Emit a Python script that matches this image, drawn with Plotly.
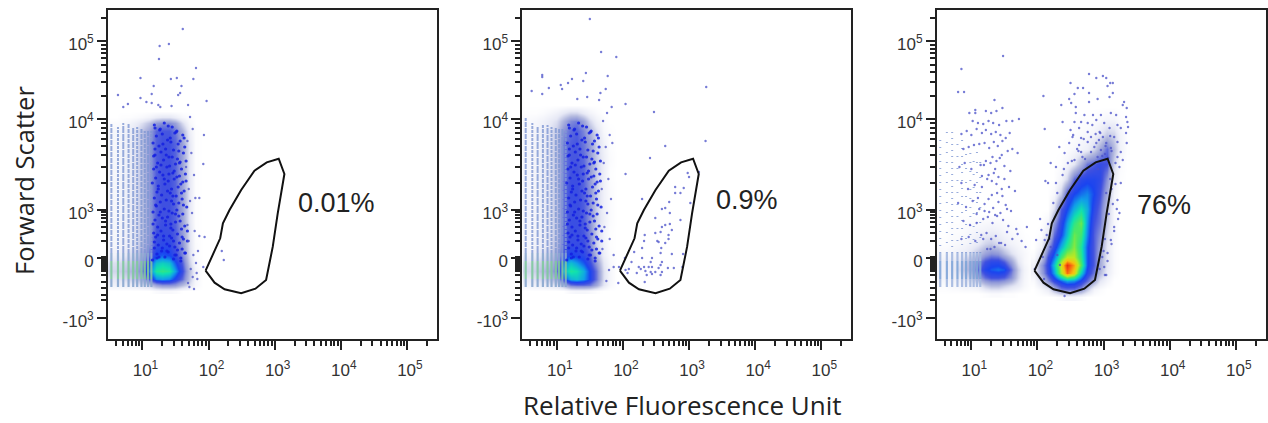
import plotly.graph_objects as go

W, H = 1268, 423
PANEL_LEFT = [108.3, 523.3, 938.5]
PANEL_W = 329
TOP, BOTTOM = 10, 339
X_RANGE = [0.481, 5.449]
Y_RANGE = [0, 329]

# y values are display channels (biexponential scale), x values are log10 fluorescence
X_TICKS = [1, 2, 3, 4, 5]
X_LABELS = ["10<sup>1</sup>", "10<sup>2</sup>", "10<sup>3</sup>", "10<sup>4</sup>", "10<sup>5</sup>"]
X_MINOR = [0.602, 0.699, 0.778, 0.845, 0.903, 0.954,
           1.301, 1.477, 1.602, 1.699, 1.778, 1.845, 1.903, 1.954,
           2.301, 2.477, 2.602, 2.699, 2.778, 2.845, 2.903, 2.954,
           3.301, 3.477, 3.602, 3.699, 3.778, 3.845, 3.903, 3.954,
           4.301, 4.477, 4.602, 4.699, 4.778, 4.845, 4.903, 4.954, 5.301]
Y_TICKS = [298, 220, 129, 81, 21]
Y_LABELS = ["10<sup>5</sup>", "10<sup>4</sup>", "10<sup>3</sup>", "0", "-10<sup>3</sup>"]
Y_MINOR = [321.5, 294, 290.5, 286, 281, 274.5, 267, 257, 243.5,
           215.8, 211.2, 205.9, 199.8, 192.6, 183.8, 172.4, 156.4,
           127, 124, 121, 117, 112, 106, 98,
           82, 80, 78, 76, 74, 72, 70, 68, 64, 57, 51, 44, 39]

GATE_X = [1.955, 2.091, 2.242, 2.493, 2.709, 2.870, 2.971, 3.046, 3.147, 3.061, 2.880, 2.694, 2.493, 2.317, 2.217, 2.176, 1.955]
GATE_Y = [68.3, 56.3, 49.7, 45.7, 50.3, 59, 92.3, 125.7, 165, 180.3, 176.7, 168.3, 149, 129, 115.7, 100.7, 68.3]

PERCENT = ["0.01%", "0.9%", "76%"]
PERCENT_X = [3.32, 3.38, 3.47]
PERCENT_Y = [136, 139, 134]

COLORSCALE = [
    [0.00, "#ffffff"], [0.10, "#e6e8f5"], [0.20, "#b4badf"], [0.30, "#8a93d8"],
    [0.40, "#3f50e0"], [0.48, "#1a44f0"], [0.56, "#10a0e8"], [0.64, "#10e0b0"],
    [0.72, "#50e860"], [0.80, "#c0e820"], [0.88, "#f8c010"], [0.95, "#f86010"], [1.00, "#e83010"],
]

LEFT_COLS = [0.5, 0.6, 0.7, 0.8, 0.9, 1.0, 1.1, 1.2, 1.3, 1.4, 1.5, 1.6, 1.7, 1.8, 1.9]

ROWS_1 = [48, 54, 60, 68, 76, 84, 94, 106, 120, 135, 150, 165, 180, 195, 208, 216, 222, 228]
DENSITY_1 = [
    [0, 0, 0, 0, 0, 0, 0, 2, 3, 3, 2, 0, 0, 0, 0],
    [6, 6, 7, 8, 10, 12, 16, 26, 30, 30, 28, 20, 12, 3, 0],
    [10, 10, 12, 14, 18, 24, 40, 54, 56, 54, 46, 36, 18, 4, 0],
    [14, 14, 16, 20, 24, 34, 52, 66, 68, 66, 56, 42, 20, 5, 0],
    [12, 12, 14, 16, 20, 30, 46, 60, 62, 60, 50, 38, 16, 3, 0],
    [6, 6, 8, 12, 16, 24, 36, 48, 50, 48, 42, 32, 13, 2, 0],
    [4, 4, 6, 8, 13, 20, 30, 42, 44, 44, 38, 30, 12, 2, 0],
    [4, 4, 5, 8, 12, 18, 28, 40, 42, 41, 38, 28, 12, 1, 0],
    [4, 4, 5, 8, 12, 18, 28, 38, 40, 40, 37, 26, 10, 1, 0],
    [4, 4, 5, 8, 12, 18, 28, 38, 40, 40, 37, 26, 10, 1, 0],
    [4, 4, 5, 8, 12, 18, 28, 38, 40, 40, 37, 26, 10, 1, 0],
    [4, 4, 5, 8, 12, 18, 28, 38, 40, 40, 37, 26, 10, 1, 0],
    [4, 4, 5, 8, 12, 18, 28, 38, 40, 40, 37, 26, 10, 1, 0],
    [4, 4, 5, 8, 12, 18, 28, 38, 40, 40, 37, 26, 10, 1, 0],
    [4, 4, 5, 8, 12, 18, 26, 37, 39, 39, 34, 22, 7, 1, 0],
    [2, 2, 3, 5, 8, 12, 18, 28, 31, 31, 26, 13, 3, 0, 0],
    [0, 0, 1, 1, 2, 3, 5, 8, 10, 10, 7, 3, 1, 0, 0],
    [0, 0, 0, 0, 0, 0, 0, 0, 0, 0, 0, 0, 0, 0, 0],
]

ROWS_2 = [48, 54, 60, 68, 76, 84, 94, 106, 120, 135, 150, 165, 180, 195, 208, 218, 226, 234]
DENSITY_2 = [
    [0, 0, 0, 0, 0, 0, 0, 3, 4, 4, 3, 1, 0, 0, 0],
    [6, 6, 7, 8, 10, 12, 22, 34, 36, 36, 34, 24, 10, 3, 0],
    [10, 10, 12, 14, 18, 24, 46, 58, 60, 56, 48, 34, 12, 4, 0],
    [14, 14, 16, 20, 24, 34, 58, 66, 64, 58, 48, 34, 12, 4, 0],
    [12, 12, 14, 16, 20, 30, 52, 60, 56, 50, 42, 28, 10, 3, 0],
    [6, 6, 8, 12, 16, 24, 42, 48, 46, 44, 38, 20, 7, 2, 0],
    [4, 4, 6, 8, 13, 20, 38, 42, 42, 41, 34, 14, 6, 1, 0],
    [4, 4, 5, 8, 12, 18, 37, 41, 41, 39, 32, 14, 5, 1, 0],
    [4, 4, 5, 8, 12, 18, 36, 41, 41, 38, 30, 15, 7, 2, 0],
    [4, 4, 5, 8, 12, 18, 36, 41, 41, 38, 30, 15, 6, 2, 0],
    [4, 4, 5, 8, 12, 18, 36, 41, 41, 37, 30, 15, 6, 2, 0],
    [4, 4, 5, 8, 12, 18, 34, 40, 40, 37, 28, 15, 7, 1, 0],
    [4, 4, 5, 8, 12, 18, 34, 39, 39, 36, 28, 16, 7, 2, 0],
    [4, 4, 5, 8, 12, 18, 34, 38, 39, 34, 28, 14, 6, 1, 0],
    [4, 4, 5, 8, 12, 16, 30, 36, 38, 32, 22, 12, 3, 1, 0],
    [3, 3, 4, 6, 9, 12, 22, 31, 33, 25, 14, 6, 2, 0, 0],
    [1, 1, 1, 2, 4, 6, 10, 14, 14, 9, 5, 2, 0, 0, 0],
    [0, 0, 0, 0, 0, 0, 0, 0, 0, 0, 0, 0, 0, 0, 0],
]

ROWS_3 = [46, 54, 62, 70, 78, 86, 96, 110, 125]
DENSITY_3 = [
    [0, 0, 0, 0, 0, 0, 0, 1, 2, 2, 1, 1, 0, 0, 0],
    [2, 2, 3, 4, 6, 6, 8, 16, 20, 20, 16, 12, 8, 3, 0],
    [5, 5, 6, 8, 12, 16, 26, 36, 40, 40, 38, 30, 14, 4, 0],
    [6, 6, 8, 12, 18, 24, 36, 46, 50, 52, 50, 36, 16, 5, 0],
    [6, 6, 8, 10, 16, 22, 30, 40, 44, 44, 38, 26, 10, 3, 0],
    [3, 3, 4, 6, 8, 12, 18, 26, 30, 28, 20, 12, 6, 3, 0],
    [1, 1, 2, 3, 4, 6, 9, 14, 16, 12, 8, 5, 3, 1, 0],
    [0, 0, 1, 1, 2, 3, 4, 5, 6, 5, 3, 2, 1, 0, 0],
    [0, 0, 0, 0, 0, 0, 0, 0, 0, 0, 0, 0, 0, 0, 0],
]

GATE_COLS = [1.95, 2.05, 2.15, 2.25, 2.35, 2.45, 2.55, 2.65, 2.75, 2.85, 2.95, 3.05, 3.15, 3.25, 3.35]
GATE_ROWS = [42, 50, 58, 66, 74, 82, 92, 104, 116, 130, 145, 160, 175, 190, 205, 220, 232]
GATE_DENSITY = [
    [0, 0, 0, 0, 2, 4, 4, 2, 0, 0, 0, 0, 0, 0, 0],
    [0, 3, 8, 22, 34, 36, 36, 30, 18, 5, 2, 0, 0, 0, 0],
    [2, 12, 30, 42, 50, 56, 54, 46, 36, 24, 10, 4, 0, 0, 0],
    [6, 24, 42, 56, 78, 94, 86, 62, 46, 34, 20, 8, 2, 0, 0],
    [6, 26, 44, 60, 82, 100, 90, 72, 50, 38, 24, 10, 2, 0, 0],
    [2, 14, 40, 52, 70, 80, 80, 68, 50, 38, 24, 10, 2, 0, 0],
    [0, 5, 28, 44, 58, 68, 76, 66, 50, 38, 26, 10, 2, 0, 0],
    [0, 1, 12, 36, 48, 60, 74, 70, 54, 38, 30, 12, 3, 0, 0],
    [0, 0, 4, 28, 44, 56, 68, 74, 56, 40, 34, 16, 3, 0, 0],
    [0, 0, 0, 12, 38, 48, 58, 64, 58, 44, 36, 18, 3, 0, 0],
    [0, 0, 0, 3, 16, 40, 48, 52, 54, 48, 40, 24, 5, 0, 0],
    [0, 0, 0, 0, 4, 14, 36, 44, 46, 46, 44, 30, 8, 1, 0],
    [0, 0, 0, 0, 1, 4, 10, 22, 34, 38, 42, 40, 14, 2, 0],
    [0, 0, 0, 0, 0, 1, 3, 5, 7, 14, 24, 36, 20, 6, 1],
    [0, 0, 0, 0, 0, 0, 1, 2, 3, 5, 9, 16, 14, 5, 1],
    [0, 0, 0, 0, 0, 0, 0, 1, 1, 1, 2, 4, 4, 1, 0],
    [0, 0, 0, 0, 0, 0, 0, 0, 0, 0, 0, 0, 0, 0, 0],
]

STRIPE_X = [0.53, 0.63, 0.71, 0.79, 0.86, 0.92, 0.985, 1.035, 1.085, 1.135]
STRIPE_TOP_1 = [215, 212, 216, 216, 212, 212, 210, 208, 208, 208]
STRIPE_TOP_2 = [221, 216, 212, 214, 214, 212, 212, 210, 210, 208]
STRIPE_TOP_3 = [200, 210, 212, 205, 200, 195, 190, 190, 190, 190]
STRIPE_GAP_DENSE = ["5px,1px", "3px,1px", "7px,1px", "4px,1px", "6px,1px", "3px,1px", "5px,1px", "4px,1px", "8px,1px", "3px,1px"]
STRIPE_GAP_SPARSE = ["1px,6px", "1px,9px", "1px,5px", "1px,11px", "1px,7px", "1px,13px", "1px,8px", "1px,12px", "1px,9px", "1px,14px"]
BAND_EDGES = [52, 60, 78, 86]

DOTS_1_X = [1.61, 1.26, 1.40, 1.25, 1.81, 0.97, 1.43, 1.52, 1.77, 1.17, 1.59, 0.63, 1.14, 1.57, 1.54, 0.97, 1.06, 1.97, 0.78, 0.71, 1.24, 1.27, 1.14, 1.69, 1.44, 1.93, 1.92, 1.86, 1.80, 1.86, 1.94, 2.20, 2.23, 1.92,
            1.72, 1.76, 1.68, 1.74, 1.66, 1.78, 1.70, 1.72, 1.75, 1.68, 1.79, 1.70, 1.84, 1.77, 1.81, 1.73, 1.76, 1.82, 1.69, 1.71, 1.78, 1.83]
DOTS_1_Y = [310, 293, 295, 280, 271, 261, 260, 261, 260, 253, 253, 244, 245, 246, 244, 241, 237, 238, 235, 232, 234, 232, 236, 234, 233, 204, 175, 141, 141, 103, 102, 88, 79, 72,
            222, 210, 198, 186, 172, 164, 150, 138, 126, 114, 108, 98, 88, 84, 76, 70, 62, 66, 56, 52, 50, 60]

DOTS_2_X = [1.50, 1.67, 1.90, 0.78, 0.78, 1.44, 1.77, 1.23, 1.40, 1.17, 1.06, 0.88, 1.08, 0.62, 1.74, 1.66, 0.78, 3.26, 2.04, 2.47, 1.83, 1.64, 1.31, 1.46, 3.25, 2.64, 2.41, 2.04, 2.29,
            2.98, 3.15, 3.00, 2.79, 2.92, 2.87, 2.79, 3.02, 2.70, 2.64, 2.59, 2.71, 2.49, 2.87, 2.71, 2.59, 2.64, 2.49, 2.57, 2.74, 2.33, 2.69, 2.52, 2.54, 2.69, 2.32, 2.64, 2.29, 2.58, 2.57, 2.91, 2.74, 2.17, 2.44, 2.42, 2.29, 2.59, 2.57, 2.13, 2.24, 2.32, 2.39, 2.44, 2.54, 2.77, 2.90, 2.09, 2.04, 2.27, 2.34, 2.42, 2.49, 2.59, 2.68, 2.07, 2.21, 2.36, 2.44, 2.33, 2.57, 1.93, 1.94, 1.86, 2.03, 1.79,
            1.76, 1.70, 1.80, 1.74, 1.84, 1.71, 1.78, 1.68, 1.82, 1.76, 1.72, 1.80, 1.86, 1.69, 1.75]
DOTS_2_Y = [320, 287, 282, 264, 262, 266, 263, 260, 258, 256, 254, 251, 250, 248, 250, 246, 245, 252, 235, 227, 232, 239, 240, 242, 198, 193, 181, 165, 140,
            166, 167, 162, 152, 151, 146, 146, 136, 137, 131, 130, 126, 121, 119, 115, 112, 114, 106, 107, 109, 104, 104, 98, 97, 100, 98, 96, 91, 91, 86, 85, 85, 87, 81, 77, 81, 77, 74, 77, 72, 72, 72, 72, 71, 71, 72, 70, 69, 70, 68, 67, 67, 67, 71, 66, 66, 64, 65, 57, 64, 56, 72, 72, 81, 69,
            226, 218, 204, 192, 196, 176, 160, 150, 140, 126, 112, 100, 84, 90, 58]

DOTS_3_X = [2.78, 2.99, 2.89, 3.04, 2.50, 3.10, 3.14, 3.06, 2.61, 2.69, 2.78, 2.56, 2.48, 2.91, 3.09, 3.14, 2.36, 2.51, 2.58, 2.78, 3.31, 3.29, 3.35, 2.09, 2.58, 2.71, 2.84, 2.96, 3.11, 3.19, 3.34, 2.38, 2.56, 2.66, 2.76, 2.89, 3.01, 3.21, 3.36, 2.11, 2.50, 2.63, 2.76, 2.94, 3.09, 3.26, 3.37, 2.53, 2.66, 2.81, 2.99, 3.16, 3.34, 2.33, 2.48, 2.63, 2.76, 2.89, 3.04, 3.21, 3.35, 2.41, 2.66, 2.81, 2.96, 3.11, 3.26, 2.68, 2.56, 2.91, 3.21, 3.29, 2.28, 2.46, 3.24, 2.38, 2.16, 2.28, 3.26, 3.21, 3.24, 3.16, 3.11, 3.06, 3.01, 3.04, 2.06, 1.98, 2.11, 2.08, 1.96, 2.41,
            2.54, 2.60, 2.70, 2.83, 2.95, 3.03, 3.10, 2.72, 2.86, 2.98, 3.12, 3.18, 2.93, 3.02, 3.07, 2.88,
            1.48, 0.85, 0.80, 0.89, 1.35, 1.06, 1.06, 0.97, 1.22, 1.30, 1.38, 1.47, 1.02, 1.10, 1.18, 1.26, 1.33, 1.42, 1.53, 1.62, 1.72, 0.85, 0.93, 1.00, 1.08, 1.16, 1.22, 1.30, 1.37, 1.44, 1.52, 1.58, 0.88, 0.96, 1.04, 1.12, 1.20, 1.27, 1.34, 1.40, 1.47, 1.55, 1.62, 1.70, 0.82, 0.90, 1.00, 1.14, 1.22, 1.29, 1.36, 1.43, 1.50, 1.59, 0.85, 0.95, 1.05, 1.16, 1.24, 1.31, 1.38, 1.46, 1.57, 1.66, 0.80, 0.92, 1.02, 1.12, 1.20, 1.26, 1.33, 1.41, 1.52, 1.60, 0.88, 0.98, 1.08, 1.18, 1.25, 1.32, 1.39, 1.48, 1.56, 1.84, 1.70, 0.85, 0.96, 1.06, 1.15, 1.23, 1.30, 1.37, 1.45, 1.54, 1.62, 1.76, 1.82, 1.68,
            1.18, 1.29, 1.35, 1.42, 1.51, 1.24, 1.31, 1.39, 1.47, 1.10, 1.20, 1.27, 1.36, 1.44, 1.54, 1.08, 1.16, 1.34, 1.41, 1.50, 1.26, 1.32, 1.38, 1.46, 1.19,
            2.92, 3.04, 3.12, 3.18, 3.10, 3.20, 3.14, 3.22, 3.08, 3.16, 3.02, 3.12, 3.00, 3.06, 2.98, 2.94, 3.02, 2.10, 2.16, 2.04, 2.14, 2.20, 2.24, 2.30, 2.12, 2.18, 2.30, 2.40, 2.52, 2.62, 2.20, 2.34]
DOTS_3_Y = [265, 263, 261, 261, 256, 256, 256, 253, 251, 251, 246, 245, 240, 240, 242, 246, 234, 236, 232, 237, 237, 234, 231, 243, 226, 224, 224, 224, 226, 224, 222, 217, 217, 217, 216, 219, 216, 214, 217, 210, 209, 211, 207, 207, 211, 211, 212, 202, 201, 202, 202, 202, 206, 192, 196, 194, 197, 196, 196, 197, 196, 186, 187, 187, 189, 191, 187, 182, 179, 182, 182, 179, 172, 176, 172, 164, 156, 156, 156, 139, 126, 112, 99, 86, 72, 64, 109, 99, 99, 82, 70, 43,
            204, 190, 200, 214, 206, 193, 203, 180, 192, 183, 188, 176, 199, 185, 181, 205,
            283, 270, 247, 247, 239, 229, 226, 226, 228, 226, 228, 231, 218, 216, 215, 218, 216, 214, 218, 218, 220, 205, 208, 204, 210, 206, 209, 205, 207, 204, 201, 206, 190, 192, 194, 195, 196, 191, 197, 193, 198, 188, 190, 186, 172, 176, 170, 174, 178, 176, 170, 181, 173, 168, 156, 150, 154, 152, 160, 158, 155, 150, 152, 148, 136, 132, 138, 130, 135, 140, 131, 137, 134, 128, 118, 114, 116, 120, 122, 116, 123, 119, 113, 112, 105, 100, 102, 98, 104, 106, 100, 103, 96, 107, 100, 98, 92, 110, 100,
            90, 92, 96, 94, 90, 144, 146, 143, 141, 128, 127, 124, 126, 130, 125, 163, 166, 162, 160, 164, 182, 178, 184, 174, 170,
            146, 150, 155, 160, 130, 135, 120, 125, 108, 100, 95, 88, 78, 82, 70, 64, 60, 115, 120, 104, 92, 136, 146, 158, 100, 84, 170, 178, 188, 176, 74, 68]

BLOCK_X = [1.18, 1.27, 1.33, 1.45, 1.52, 1.61, 1.21, 1.30, 1.38, 1.49, 1.57, 1.64, 1.16, 1.25, 1.35, 1.43, 1.55, 1.62, 1.19, 1.28, 1.40, 1.47, 1.53, 1.66,
           1.23, 1.32, 1.41, 1.50, 1.59, 1.17, 1.26, 1.37, 1.46, 1.56, 1.65, 1.20, 1.31, 1.39, 1.48, 1.58, 1.15, 1.24, 1.34, 1.44, 1.54, 1.63, 1.22, 1.29, 1.42, 1.51,
           1.60, 1.18, 1.27, 1.36, 1.47, 1.55, 1.67, 1.21, 1.33, 1.40, 1.52, 1.61, 1.16, 1.25, 1.38, 1.45, 1.57, 1.19, 1.30, 1.43, 1.50, 1.64, 1.23, 1.35, 1.46, 1.59,
           1.17, 1.28, 1.41, 1.53, 1.62, 1.20, 1.32, 1.44, 1.56, 1.68, 1.24, 1.37, 1.49, 1.60, 1.18, 1.29, 1.39, 1.51, 1.65, 1.22, 1.34, 1.47, 1.58, 1.15,
           1.26, 1.42, 1.54, 1.63, 1.19, 1.31, 1.45, 1.57, 1.21, 1.36, 1.48, 1.61, 1.17, 1.28, 1.40, 1.52, 1.66, 1.24, 1.33, 1.46, 1.59, 1.20, 1.38, 1.50, 1.62,
           1.16, 1.27, 1.43, 1.55, 1.68, 1.23, 1.35, 1.47, 1.60, 1.18, 1.30, 1.41, 1.53, 1.64, 1.25, 1.37, 1.49, 1.58, 1.22, 1.32, 1.44, 1.56, 1.19, 1.39, 1.51]
BLOCK_Y = [214, 210, 216, 212, 208, 204, 203, 205, 199, 206, 198, 192, 196, 193, 190, 197, 188, 186, 184, 187, 182, 189, 180, 178,
           176, 179, 173, 175, 170, 170, 167, 172, 166, 163, 165, 161, 164, 158, 160, 155, 156, 153, 155, 150, 152, 148, 147, 144, 146, 143,
           140, 141, 137, 139, 135, 136, 132, 133, 130, 128, 129, 125, 127, 124, 122, 126, 118, 119, 121, 115, 117, 113, 112, 114, 109, 110,
           106, 108, 103, 105, 100, 102, 99, 101, 96, 98, 94, 95, 92, 90, 91, 88, 87, 84, 86, 85, 82, 80, 81, 79,
           209, 201, 195, 201, 190, 195, 182, 177, 172, 184, 168, 157, 183, 174, 165, 162, 158, 150, 160, 143, 146, 134, 148, 125, 134,
           115, 127, 111, 123, 108, 104, 118, 98, 102, 97, 91, 93, 89, 86, 82, 88, 84, 78, 81, 103, 138, 176, 211, 213, 207, 193]

DOTS = [(DOTS_1_X, DOTS_1_Y), (DOTS_2_X, DOTS_2_Y), (DOTS_3_X, DOTS_3_Y)]
BLOCKS = [(BLOCK_X, BLOCK_Y), (BLOCK_X, BLOCK_Y), ([], [])]
HEATS = [
    [(LEFT_COLS, ROWS_1, DENSITY_1)],
    [(LEFT_COLS, ROWS_2, DENSITY_2)],
    [(LEFT_COLS, ROWS_3, DENSITY_3), (GATE_COLS, GATE_ROWS, GATE_DENSITY)],
]
STRIPE_TOPS = [STRIPE_TOP_1, STRIPE_TOP_2, STRIPE_TOP_3]
STRIPE_DASH = [STRIPE_GAP_DENSE, STRIPE_GAP_DENSE, STRIPE_GAP_SPARSE]
BAND_COLORS = [["#8aa8d0", "#80c8a0", "#8aa8d0"], ["#8aa8d0", "#80c8a0", "#8aa8d0"], ["#a4b8e0", "#7fa4d8", "#a4b8e0"]]

fig = go.Figure()
for i in range(3):
    suffix = "" if i == 0 else str(i + 1)
    xa, ya = "x" + suffix, "y" + suffix
    for cols, rows, dens in HEATS[i]:
        fig.add_trace(go.Heatmap(x=cols, y=rows, z=dens, zmin=0, zmax=100, colorscale=COLORSCALE,
                                 zsmooth="best", showscale=False, hoverinfo="skip", xaxis=xa, yaxis=ya))
    for sx, top, dash in zip(STRIPE_X, STRIPE_TOPS[i], STRIPE_DASH[i]):
        fig.add_trace(go.Scatter(x=[sx, sx], y=[BAND_EDGES[3], top], mode="lines", hoverinfo="skip", showlegend=False,
                                 line=dict(color="#8098d4", width=2, dash=dash), opacity=0.8, xaxis=xa, yaxis=ya))
        for k in range(3):
            fig.add_trace(go.Scatter(x=[sx, sx], y=[BAND_EDGES[k], BAND_EDGES[k + 1]], mode="lines", hoverinfo="skip", showlegend=False,
                                     line=dict(color=BAND_COLORS[i][k], width=2.2), opacity=0.9, xaxis=xa, yaxis=ya))
    fig.add_trace(go.Scatter(x=BLOCKS[i][0], y=BLOCKS[i][1], mode="markers", hoverinfo="skip", showlegend=False,
                             marker=dict(color="#1420e0", size=3.2, opacity=0.85), xaxis=xa, yaxis=ya))
    fig.add_trace(go.Scatter(x=DOTS[i][0], y=DOTS[i][1], mode="markers", hoverinfo="skip", showlegend=False,
                             marker=dict(color="#4a50c8", size=2.4, opacity=0.75), xaxis=xa, yaxis=ya))
    fig.add_trace(go.Scatter(x=GATE_X, y=GATE_Y, mode="lines", hoverinfo="skip", showlegend=False,
                             line=dict(color="#111111", width=2), xaxis=xa, yaxis=ya))
    fig.add_annotation(x=PERCENT_X[i], y=PERCENT_Y[i], xref=xa, yref=ya, text=PERCENT[i], showarrow=False,
                       xanchor="left", yanchor="middle", font=dict(family="Liberation Sans", size=27, color="#222222"))
    common = dict(showline=True, mirror=True, linecolor="#222222", linewidth=2, showgrid=False, zeroline=False,
                  ticks="outside", tickcolor="#222222", tickwidth=2, ticklen=9,
                  tickfont=dict(family="Liberation Sans", size=17, color="#333333"))
    minor_style = dict(ticks="outside", ticklen=5, tickwidth=1.5, tickcolor="#222222", showgrid=False)
    fig.layout["xaxis" + suffix] = dict(
        domain=[PANEL_LEFT[i] / W, (PANEL_LEFT[i] + PANEL_W) / W], range=X_RANGE, tickmode="array",
        tickvals=X_TICKS, ticktext=X_LABELS, minor=dict(tickmode="array", tickvals=X_MINOR, **minor_style),
        ticklabelstandoff=6, ticklabelshift=3, anchor=ya, **common)
    fig.layout["yaxis" + suffix] = dict(
        domain=[1 - BOTTOM / H, 1 - TOP / H], range=Y_RANGE, tickmode="array",
        tickvals=Y_TICKS, ticktext=Y_LABELS, minor=dict(tickmode="array", tickvals=Y_MINOR, **minor_style),
        ticklabelshift=3, anchor=xa, **common)

fig.add_annotation(x=684 / W, y=1 - 405 / H, xref="paper", yref="paper", text="Relative Fluorescence Unit", showarrow=False,
                   xanchor="center", yanchor="middle", font=dict(family="Open Sans", size=26, color="#222222"))
fig.add_annotation(x=24 / W, y=1 - 180 / H, xref="paper", yref="paper", text="Forward Scatter", showarrow=False, textangle=-90,
                   xanchor="center", yanchor="middle", font=dict(family="Open Sans", size=25.5, color="#222222"))
fig.update_layout(width=W, height=H, margin=dict(l=0, r=0, t=0, b=0), paper_bgcolor="white", plot_bgcolor="white",
                  showlegend=False)
fig.write_html("out.html", config=dict(displayModeBar=False), post_script="document.body.style.margin='0';")
